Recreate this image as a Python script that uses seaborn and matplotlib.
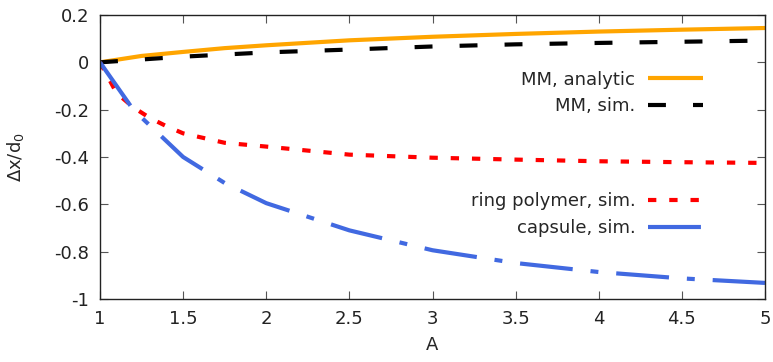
import matplotlib
matplotlib.use("Agg")
import matplotlib.pyplot as plt
import seaborn as sns
import pandas as pd
from matplotlib.ticker import FixedLocator, FuncFormatter

# ---- data ----
A_mm_analytic = [1, 1.25, 1.5, 1.75, 2, 2.5, 3, 3.5, 4, 4.5, 5]
dx_mm_analytic = [0, 0.027, 0.044, 0.060, 0.072, 0.093, 0.108, 0.120, 0.130, 0.138, 0.145]

A_mm_sim = [1, 1.5, 2, 2.5, 3, 3.5, 4, 4.5, 5]
dx_mm_sim = [0, 0.024, 0.042, 0.054, 0.067, 0.076, 0.082, 0.087, 0.092]

A_ring = [1, 1.1, 1.2, 1.3, 1.4, 1.5, 1.75, 2, 2.5, 3, 3.5, 4, 4.5, 5]
dx_ring = [0, -0.13, -0.19, -0.235, -0.27, -0.30, -0.34, -0.356, -0.39, -0.403, -0.411, -0.418, -0.422, -0.425]

A_capsule = [1, 1.2, 1.5, 1.75, 2, 2.5, 3, 3.5, 4, 4.5, 5]
dx_capsule = [0, -0.20, -0.40, -0.51, -0.595, -0.71, -0.794, -0.848, -0.886, -0.913, -0.932]

x_ticks = [1, 1.5, 2, 2.5, 3, 3.5, 4, 4.5, 5]
y_ticks = [-1, -0.8, -0.6, -0.4, -0.2, 0, 0.2]

labels = ["MM, analytic", "MM, sim.", "ring polymer, sim.", "capsule, sim."]
colors = ["#FFA500", "#000000", "#FF0000", "#4169E1"]

# ---- style ----
sns.set_style("ticks")
plt.rcParams.update({
    "font.family": ["DejaVu Sans"],
    "font.size": 13,
    "axes.unicode_minus": False,
    "xtick.direction": "in",
    "ytick.direction": "in",
    "xtick.top": True,
    "ytick.right": True,
    "xtick.major.size": 6,
    "ytick.major.size": 6,
    "xtick.major.width": 0.8,
    "ytick.major.width": 0.8,
    "xtick.color": "#555555",
    "ytick.color": "#555555",
    "xtick.labelcolor": "#222222",
    "ytick.labelcolor": "#222222",
    "axes.edgecolor": "#222222",
    "axes.linewidth": 1.0,
})

fig = plt.figure(figsize=(7.73, 3.62), dpi=100)
ax = fig.add_axes([100 / 773, 1 - 299 / 362, 665 / 773, 284 / 362])

series = [
    (A_mm_analytic, dx_mm_analytic),
    (A_mm_sim, dx_mm_sim),
    (A_ring, dx_ring),
    (A_capsule, dx_capsule),
]
dash_patterns = [None, (4.3, 6.5), (2.0, 3.1), (12.7, 4.3, 1.9, 4.3)]

lines = []
for (xs, ys), lab, col, dp in zip(series, labels, colors, dash_patterns):
    df = pd.DataFrame({"A": xs, "dx": ys})
    sns.lineplot(data=df, x="A", y="dx", ax=ax, color=col, lw=3, label=lab,
                 legend=False, sort=False)
    ln = ax.lines[-1]
    if dp is not None:
        ln.set_dashes(dp)
        ln.set_dash_capstyle("butt")
    else:
        ln.set_solid_capstyle("butt")
    lines.append(ln)

ax.set_xlim(1, 5)
ax.set_ylim(-1, 0.2)
ax.xaxis.set_major_locator(FixedLocator(x_ticks))
ax.yaxis.set_major_locator(FixedLocator(y_ticks))
fmt = FuncFormatter(lambda v, p: f"{round(v, 6):g}" if abs(v) > 1e-9 else "0")
ax.xaxis.set_major_formatter(fmt)
ax.yaxis.set_major_formatter(fmt)
ax.tick_params(axis="both", labelsize=13, pad=8)

ax.set_xlabel("A", fontsize=13, labelpad=6)
ax.set_ylabel(r"$\Delta$x/d$_0$", fontsize=13, labelpad=20)

leg_kw = dict(frameon=False, markerfirst=False, fontsize=13, handlelength=3.05,
              handletextpad=0.7, labelspacing=0.48, borderpad=0, borderaxespad=0,
              loc="center right", bbox_transform=fig.transFigure)
leg1 = ax.legend(lines[:2], labels[:2], bbox_to_anchor=(703 / 773, 1 - 93 / 362), **leg_kw)
ax.add_artist(leg1)
leg2 = ax.legend(lines[2:], labels[2:], bbox_to_anchor=(703 / 773, 1 - 214.5 / 362), **leg_kw)

fig.savefig("out.png", dpi=100)
